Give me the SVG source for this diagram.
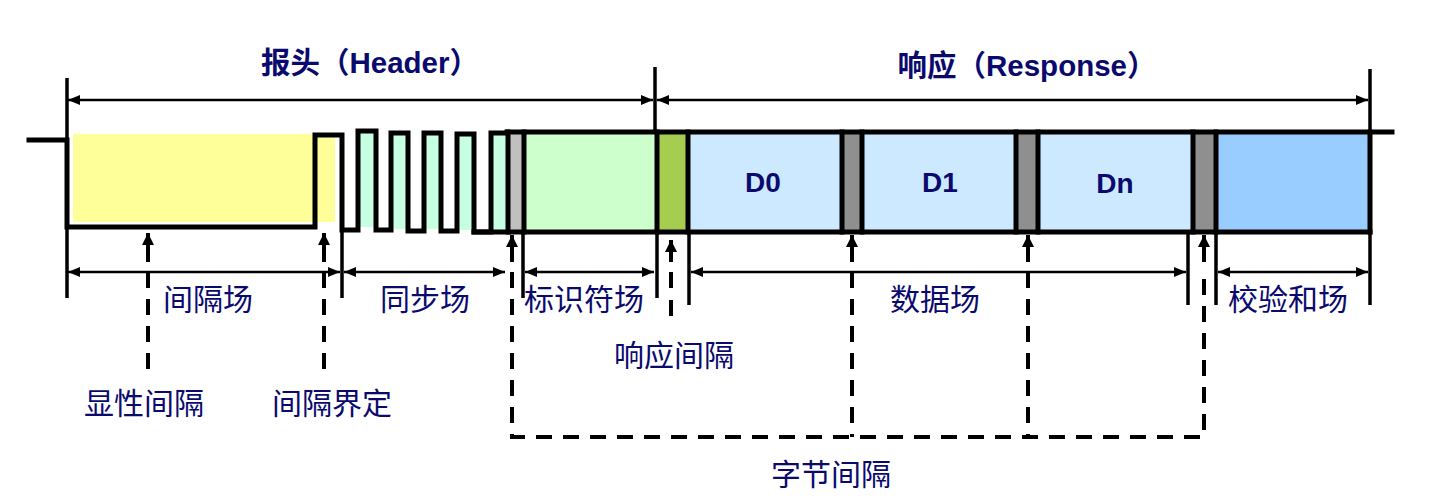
<svg xmlns="http://www.w3.org/2000/svg" width="1436" height="503" viewBox="0 0 1436 503">
<defs>
<marker id="ah" viewBox="0 0 12 10" refX="12" refY="5" markerWidth="12" markerHeight="10" markerUnits="userSpaceOnUse" orient="auto-start-reverse">
<path d="M0,0 L12,5 L0,10 Z" fill="#000"/>
</marker>
<marker id="up" viewBox="0 0 12 12" refX="12" refY="6" markerWidth="12" markerHeight="12" markerUnits="userSpaceOnUse" orient="auto">
<path d="M0,0 L12,6 L0,12 Z" fill="#000"/>
</marker>
<style>
.lbl{font-family:"Noto Sans CJK SC","Liberation Sans",sans-serif;font-size:30px;fill:#0a0a6e;text-anchor:middle;dominant-baseline:central}
.ttl{font-family:"Liberation Sans","Noto Sans CJK SC",sans-serif;font-size:29.5px;font-weight:bold;fill:#0a0a6e;text-anchor:middle;dominant-baseline:central}
.dat{font-family:"Liberation Sans",sans-serif;font-size:28px;font-weight:bold;fill:#0a0a6e;text-anchor:middle;dominant-baseline:central}
.dim{stroke:#000;stroke-width:2.5;fill:none;marker-start:url(#ah);marker-end:url(#ah)}
.ext{stroke:#000;stroke-width:3.5;fill:none}
.sig{stroke:#000;stroke-width:5;fill:none;stroke-linejoin:miter;stroke-linecap:square}
.dash{stroke:#000;stroke-width:4;fill:none;stroke-dasharray:16 11}
.shaft{stroke:#000;stroke-width:4;fill:none;marker-end:url(#up)}
</style>
</defs>
<rect width="1436" height="503" fill="#fff"/>

<g id="header-title"><text class="ttl" x="370" y="62">报头（Header）</text></g>
<g id="response-title"><text class="ttl" x="1027" y="65">响应（Response）</text></g>

<g id="gap-field">
<rect x="73" y="134" width="262" height="88" fill="#ffff99"/>
<text class="lbl" x="208" y="297">间隔场</text>
</g>
<g id="sync-field">
<rect x="360" y="133" width="14" height="94" fill="#c6ffe2"/>
<rect x="393" y="135" width="13" height="94" fill="#c6ffe2"/>
<rect x="426" y="135" width="13" height="94" fill="#c6ffe2"/>
<rect x="459" y="136" width="13" height="94" fill="#c6ffe2"/>
<rect x="493" y="135" width="13" height="95" fill="#c6ffe2"/>
<text class="lbl" x="425" y="297">同步场</text>
</g>
<g id="sync-break"><rect x="508" y="132" width="16" height="100" fill="#c0c0c0"/></g>
<g id="identifier-field">
<rect x="524" y="132" width="133" height="100" fill="#ccffcc"/>
<text class="lbl" x="584" y="297">标识符场</text>
</g>
<g id="response-gap">
<rect x="657" y="132" width="31" height="100" fill="#a6cc50"/>
<text class="lbl" x="674" y="353">响应间隔</text>
</g>
<g id="d0"><rect x="688" y="132" width="154" height="100" fill="#cce9ff"/><text class="dat" x="763" y="182">D0</text></g>
<g id="byte-gap-1"><rect x="842" y="132" width="20" height="100" fill="#8f8f8f"/></g>
<g id="d1"><rect x="862" y="132" width="154" height="100" fill="#cce9ff"/><text class="dat" x="940" y="182">D1</text></g>
<g id="byte-gap-2"><rect x="1016" y="132" width="22" height="100" fill="#8f8f8f"/></g>
<g id="dn"><rect x="1038" y="132" width="155" height="100" fill="#cce9ff"/><text class="dat" x="1115" y="183">Dn</text></g>
<g id="byte-gap-3"><rect x="1193" y="132" width="23" height="100" fill="#8f8f8f"/></g>
<g id="checksum-field">
<rect x="1216" y="132" width="154" height="100" fill="#99ccff"/>
<text class="lbl" x="1288" y="297">校验和场</text>
</g>
<g id="data-field"><text class="lbl" x="935" y="297">数据场</text></g>
<g id="explicit-gap"><text class="lbl" x="144" y="401">显性间隔</text></g>
<g id="gap-delimiter"><text class="lbl" x="332" y="401">间隔界定</text></g>
<g id="byte-gap"><text class="lbl" x="831" y="472">字节间隔</text></g>

<g id="waveform">
<path class="sig" d="M29,140 H67 V227 H315 V135 H342 V230 H358 V131 H376 V230 H391 V133 H408 V231 H424 V133 H441 V231 H457 V134 H474 V232 H491 V133 H507 V132 H1392"/>
<path class="sig" d="M474,232 H1370"/>
<path class="sig" d="M508,132 V232 M524,132 V232 M657,132 V232 M688,132 V232 M842,132 V232 M862,132 V232 M1016,132 V232 M1038,132 V232 M1193,132 V232 M1216,132 V232 M1370,132 V232"/>
</g>

<g id="connectors">
<path class="ext" d="M67,78 V298"/>
<path class="ext" d="M655,67 V132"/>
<path class="ext" d="M1370,69 V305"/>
<path class="ext" d="M342,230 V298"/>
<path class="ext" d="M523,232 V298"/>
<path class="ext" d="M657,232 V298"/>
<path class="ext" d="M689,232 V305"/>
<path class="ext" d="M1188,232 V305"/>
<path class="ext" d="M1216,232 V305"/>

<path class="dim" d="M68,100 H653"/>
<path class="dim" d="M657,100 H1368"/>
<path class="dim" d="M68,272 H340"/>
<path class="dim" d="M344,272 H505"/>
<path class="dim" d="M525,272 H654"/>
<path class="dim" d="M691,272 H1186"/>
<path class="dim" d="M1218,272 H1368"/>

<path class="shaft" d="M148,262 V233"/>
<path class="dash" d="M148,272 V380"/>
<path class="shaft" d="M324,262 V233"/>
<path class="dash" d="M324,272 V378"/>
<path class="shaft" d="M671,262 V240"/>
<path class="dash" d="M671,272 V288 M671,300 V316"/>

<path class="shaft" d="M512,262 V235"/>
<path class="shaft" d="M852,262 V235"/>
<path class="shaft" d="M1028,262 V235"/>
<path class="shaft" d="M1204,262 V235"/>
<path class="dash" d="M512,272 V437 H1204 V272"/>
<path class="dash" d="M852,272 V437"/>
<path class="dash" d="M1028,272 V437"/>
</g>
</svg>
